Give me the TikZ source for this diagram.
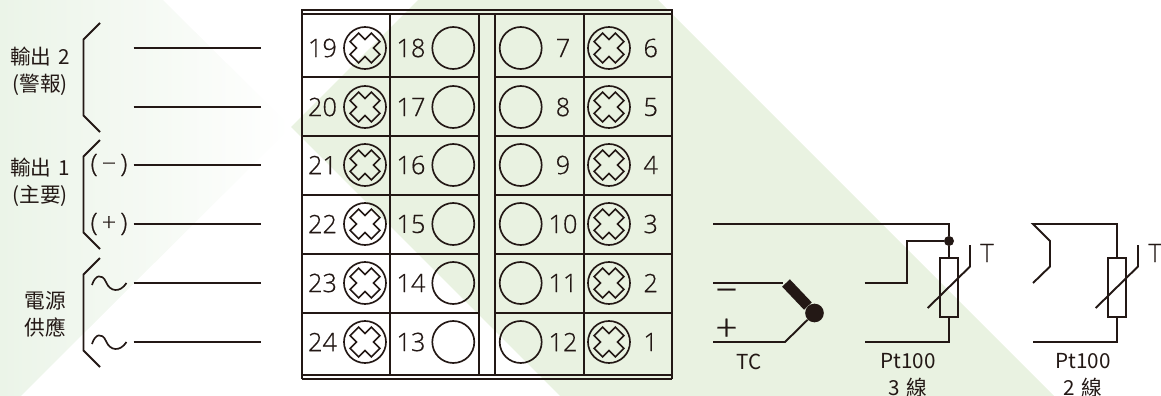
\documentclass[tikz,border=0pt]{standalone}
\usepackage{fontspec}
\setmainfont{Noto Sans CJK TC}
\newfontfamily\cadfont[FakeBold=0.6]{Open Sans Light}
\usetikzlibrary{calc}
\definecolor{ink}{HTML}{231815}
\definecolor{leaf}{HTML}{E9F2E1}
\definecolor{paleleaf}{HTML}{EBF4E8}
\tikzset{
  px/.style={x=0.75pt,y=-0.75pt},
  wire/.style={draw=ink,line width=1.45pt,line join=miter},
  grid/.style={draw=ink,line width=1.4pt},
  thin wire/.style={draw=ink,line width=1.25pt},
  label/.style={text=ink,font=\fontsize{15.5pt}{20pt}\selectfont,inner sep=0pt,align=center},
  num/.style={text=ink,font=\cadfont\fontsize{19pt}{21pt}\selectfont,inner sep=0pt},
  paren/.style={text=ink,font=\cadfont\fontsize{19pt}{21pt}\selectfont,inner sep=0pt},
  sign/.style={text=ink,font=\cadfont\fontsize{29pt}{31pt}\selectfont,inner sep=0pt},
  hole/.style={circle,draw=ink,line width=1.25pt,minimum size=31.5pt,inner sep=0pt},
  dot/.style={circle,fill=ink,inner sep=0pt,minimum size=7.5pt},
  ball/.style={circle,fill=ink,inner sep=0pt,minimum size=14pt},
  resistor/.style={draw=ink,line width=1.3pt,minimum width=13.2pt,minimum height=44.3pt,inner sep=0pt},
}
\newcommand{\screwcross}[1]{%
  \draw[thin wire,line join=miter,rotate around={45:(#1)}]
    ($(#1)+(-6,-15)$) -- ++(12,0) -- ++(0,9) -- ++(9,0) -- ++(0,12) -- ++(-9,0) -- ++(0,9)
    -- ++(-12,0) -- ++(0,-9) -- ++(-9,0) -- ++(0,-12) -- ++(9,0) -- cycle;}
\begin{document}
\begin{tikzpicture}[px]
\useasboundingbox (0,0) rectangle (1161,396);
\shade[left color=paleleaf,right color=white] (0,0) rectangle (291,396);
\fill[white] (163,0) -- (291,127) -- (291,0) -- cycle;
\fill[white] (291,127) -- (21,396) -- (291,396) -- cycle;
\fill[leaf] (291,127) -- (418,0) -- (658,0) -- (1054,396) -- (560,396) -- cycle;
% terminal block
\draw[grid] (302,14) -- (302,10) -- (672,10) -- (672,14);
\draw[grid] (302,14) -- (672,14);
\draw[grid] (302,375) -- (672,375);
\draw[grid] (302,379) -- (672,379);
\draw[grid] (302,375) -- (302,379) (672,375) -- (672,379);
\foreach \x in {302,390,479,495,584,672} \draw[grid] (\x,14) -- (\x,375);
\foreach \y in {77,136,195,254,313} {
  \draw[grid] (302,\y) -- (479,\y);
  \draw[grid] (495,\y) -- (672,\y);
}
% rows
\foreach \r/\y/\a/\b/\c/\d in {1/48/19/18/7/6,2/107/20/17/8/5,3/165/21/16/9/4,4/224/22/15/10/3,5/283/23/14/11/2,6/342/24/13/12/1} {
  \node[hole] (sa\r) at (365,\y) {};
  \node[hole] (hb\r) at (453.3,\y) {};
  \node[hole] (hc\r) at (520.7,\y) {};
  \node[hole] (sd\r) at (609,\y) {};
  \coordinate (ca\r) at (365,\y);
  \coordinate (cd\r) at (609,\y);
  \screwcross{ca\r}
  \screwcross{cd\r}
  \node[num] (na\r) at (322.5,\y) {\a};
  \node[num] (nb\r) at (411,\y) {\b};
  \node[num] (nc\r) at (563,\y) {\c};
  \node[num] (nd\r) at (650.7,\y) {\d};
}
% left brackets
\foreach \t/\n in {23/a,140/b,258/c} {
  \draw[wire] (100,\t) -- (83.5,\t+16.5) -- (83.5,\t+92.5) -- (100,\t+109);
}
% left wires
\foreach \i/\y in {1/48,2/107,3/165,4/224,5/283,6/342} {
  \coordinate (ls\i) at (133.5,\y);
  \coordinate (le\i) at (261,\y);
  \draw[wire] (ls\i) -- (le\i);
}
\node[label] (out2) at (40,71.5) {輸出\,\,2\\(警報)};
\node[label] (out1) at (40,182.5) {輸出\,\,1\\(主要)};
\node[label] (pow) at (45,314.5) {電源\\供應};
\node[paren] (minus) at (109,165) {(\,−\,)};
\node[paren] (plus) at (109,224) {(\,+\,)};
\foreach \y in {283,342} {
  \draw[thin wire] (92,\y+2) .. controls (95,\y-8) and (102,\y-10) .. (106,\y-1)
     .. controls (110,\y+9) and (120,\y+10) .. (126.5,\y);
}
% right: 3 wire
\coordinate (t3) at (713,224);
\coordinate (c3) at (949,224);
\node[dot] (j3) at (949,241) {};
\node[resistor] (r3) at (949,287.5) {};
\coordinate (b3) at (949,342);
\coordinate (be3) at (864.5,342);
\coordinate (m3) at (864.5,283);
\coordinate (k3) at (907,283);
\coordinate (k3b) at (907,241);
\draw[wire] (t3) -- (c3) -- (j3);
\draw[wire] (j3) -- (r3.north);
\draw[wire] (r3.south) -- (b3) -- (be3);
\draw[wire] (m3) -- (k3) -- (k3b) -- (j3);
\coordinate (s3a) at (927.7,308);
\coordinate (s3b) at (970,266.5);
\coordinate (s3c) at (970,245);
\draw[wire] (s3a) -- (s3b) -- (s3c);
\node[num] (T3) at (987,253) {T};
\node[label] (pt3) at (908,375) {Pt100\\3\,\,線};
% right: 2 wire
\coordinate (t2) at (1033,224);
\coordinate (c2) at (1117,224);
\coordinate (e1) at (1050,241);
\coordinate (e2) at (1050,266.5);
\coordinate (e3) at (1033,283);
\node[resistor] (r2) at (1117,287.5) {};
\coordinate (b2) at (1117,342);
\coordinate (be2) at (1033,342);
\draw[wire] (e3) -- (e2) -- (e1) -- (t2) -- (c2) -- (r2.north);
\draw[wire] (r2.south) -- (b2) -- (be2);
\coordinate (s2a) at (1095.7,308);
\coordinate (s2b) at (1138,266.5);
\coordinate (s2c) at (1138,245);
\draw[wire] (s2a) -- (s2b) -- (s2c);
\node[num] (T2) at (1155,253) {T};
\node[label] (pt2) at (1083,375) {Pt100\\2\,\,線};
% TC
\node[ball] (tcb) at (814.5,313) {};
\coordinate (tc1) at (713,283);
\coordinate (tc1e) at (783,283);
\coordinate (tc2) at (713,342);
\coordinate (tc2e) at (785,342);
\coordinate (tct) at (786,283);
\draw[wire] (tc1) -- (tc1e);
\draw[wire] (tc2) -- (tc2e) -- (tcb);
\draw[draw=ink,line width=8pt] (tct) -- (tcb);
\node[sign] (tcm) at (726.5,296) {−};
\node[sign] (tcp) at (726.5,330) {+};
\node[label] (tc) at (749,362) {TC};
\end{tikzpicture}
\end{document}
